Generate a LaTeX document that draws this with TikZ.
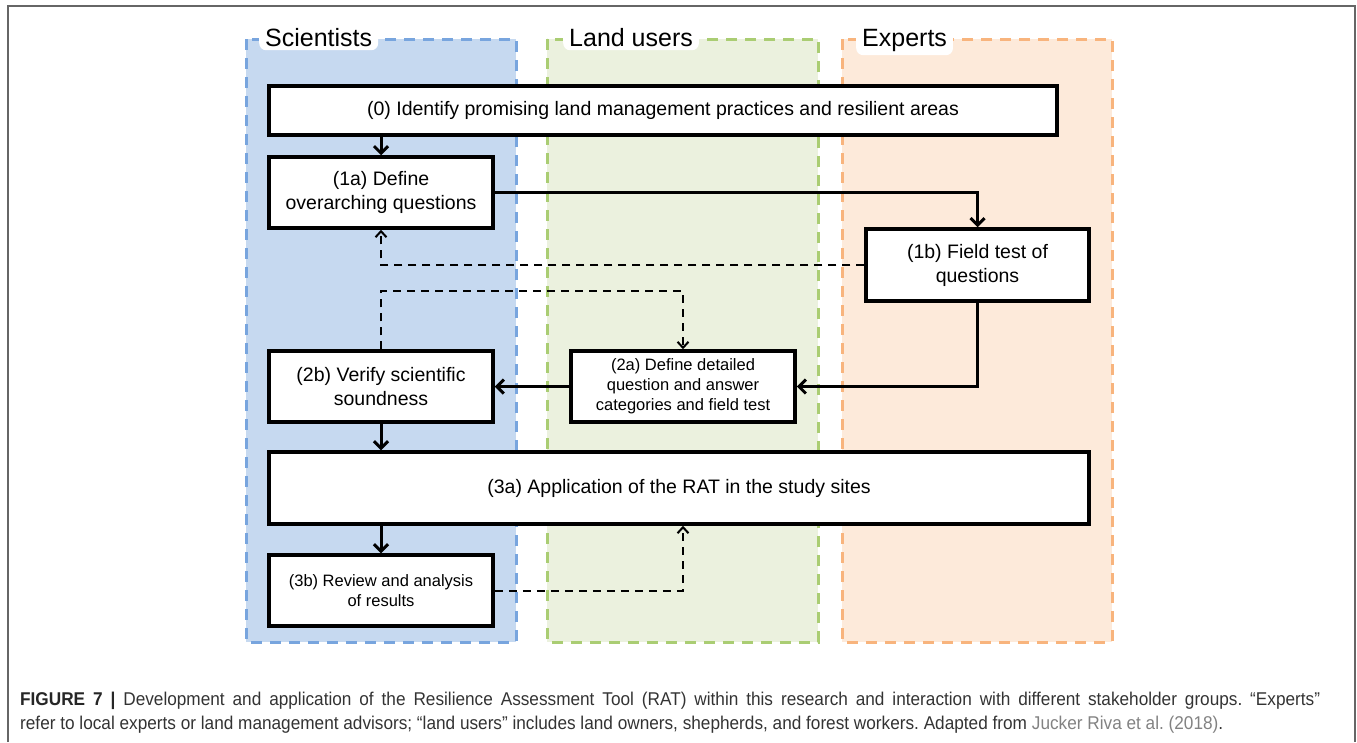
\documentclass[tikz,border=0pt]{standalone}
\usepackage{fontspec}
\setmainfont{Liberation Sans}
\newfontfamily\capfont[FakeStretch=0.93]{Liberation Sans}
\usetikzlibrary{arrows.meta,calc}
\definecolor{sciF}{RGB}{198,217,240}
\definecolor{sciD}{RGB}{120,165,222}
\definecolor{landF}{RGB}{235,241,222}
\definecolor{landD}{RGB}{170,205,115}
\definecolor{expF}{RGB}{253,234,218}
\definecolor{expD}{RGB}{248,180,125}
\definecolor{captxt}{RGB}{51,51,51}
\definecolor{refgray}{RGB}{130,130,130}
\frenchspacing
\begin{document}
\begin{tikzpicture}[x=1pt,y=-1pt,
  lane/.style={line width=3pt, dash pattern=on 11pt off 8pt},
  lanelabel/.style={fill=white, rounded corners=7pt, inner xsep=6pt, inner ysep=4pt, anchor=base west, font=\fontsize{25}{30}\selectfont},
  box/.style={draw=black, line width=3.5pt, fill=white, align=center, inner sep=2pt, font=\fontsize{19.5}{24}\selectfont},
  smallbox/.style={box, font=\fontsize{16.5}{20}\selectfont},
  arr/.style={line width=3pt, -{Straight Barb[length=7pt,width=14pt]}},
  darr/.style={line width=2pt, dash pattern=on 8pt off 6pt, -{Straight Barb[length=6pt,width=11pt]}},
  capline/.style={anchor=base west, inner sep=0pt, font=\capfont\fontsize{18.5}{22}\selectfont, text=captxt}
]
\useasboundingbox (0,0) rectangle (1357,742);
% outer frame
\draw[line width=1.5pt, draw=black!60] (8,742) -- (8,6) -- (1355,6) -- (1355,742);
% lanes
\draw[lane, draw=sciD, fill=sciF] (246,39) rectangle (516,642);
\draw[lane, draw=landD, fill=landF] (547,39) rectangle (818,642);
\draw[lane, draw=expD, fill=expF] (842,39) rectangle (1112,642);
\node[lanelabel] (lsci) at (259,46) {Scientists};
\node[lanelabel] (lland) at (563,46) {Land users};
\node[lanelabel] (lexp) at (856,46) {Experts};
% boxes
\node[box, minimum width=788pt, minimum height=49pt] (n0) at (663,110.5)
  {(0) Identify promising land management practices and resilient areas};
\node[box, minimum width=224pt, minimum height=71pt] (n1a) at (381,192.5)
  {(1a) Define\\overarching questions};
\node[box, minimum width=223pt, minimum height=72pt] (n1b) at (977.5,265)
  {(1b) Field test of\\questions};
\node[box, minimum width=224pt, minimum height=71pt] (n2b) at (381,386.5)
  {(2b) Verify scientific\\soundness};
\node[smallbox, minimum width=224pt, minimum height=71pt] (n2a) at (683,386.5)
  {(2a) Define detailed\\question and answer\\categories and field test};
\node[box, minimum width=820pt, minimum height=72pt] (n3a) at (679,488)
  {(3a) Application of the RAT in the study sites};
\node[smallbox, minimum width=224pt, minimum height=71pt] (n3b) at (381,590.5)
  {(3b) Review and analysis\\of results};
% connectors
\draw[arr] (n1a.north |- n0.south) -- (n1a.north);
\draw[arr] (n1a.east) -| (n1b.north);
\draw[darr] (n1b.west) -| (n1a.south);
\draw[darr] (n2b.north) -- ++(0,-58) -| (n2a.north);
\draw[arr] (n1b.south) |- (n2a.east);
\draw[arr] (n2a.west) -- (n2b.east);
\draw[arr] (n2b.south) -- (n2b.south |- n3a.north);
\draw[arr] (n3b.north |- n3a.south) -- (n3b.north);
\draw[darr] (n3b.east) -| (n3a.south -| n2a.south);
% caption
\node[capline] (cap1) at (20,705) {\makebox[1300pt][s]{\textbf{\color{black!85}FIGURE 7 |} Development and application of the Resilience Assessment Tool (RAT) within this research and interaction with different stakeholder groups. “Experts”}};
\node[capline] (cap2) at (20,729) {refer to local experts or land management advisors; “land users” includes land owners, shepherds, and forest workers. Adapted from \textcolor{refgray}{Jucker Riva et al. (2018)}.};
\end{tikzpicture}
\end{document}
